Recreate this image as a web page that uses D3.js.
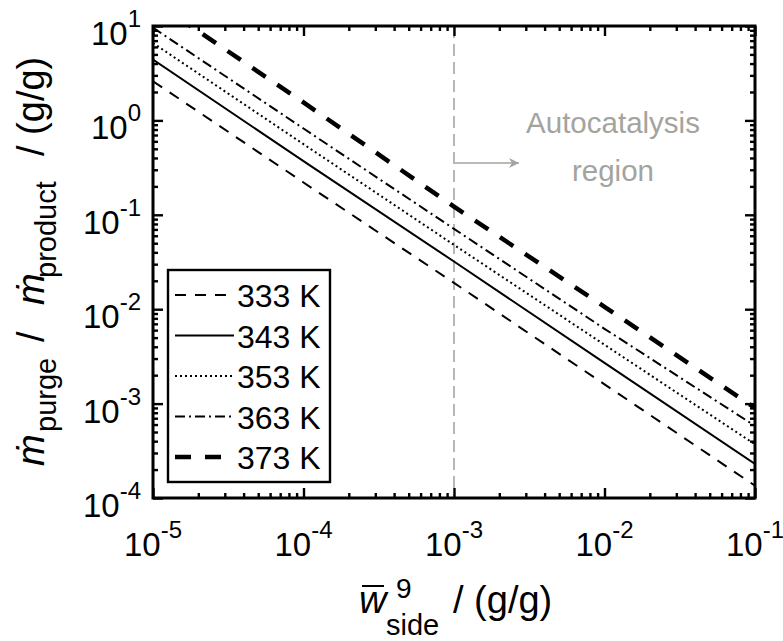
<!DOCTYPE html>
<html>
<head>
<meta charset="utf-8">
<script src="https://cdn.jsdelivr.net/npm/d3@7"></script>
<style>
  body { margin: 0; background: #fff; }
  text { font-family: "Liberation Sans", Arial, Helvetica, sans-serif; }
</style>
</head>
<body>
<div id="chart"></div>
<script>
// chart size and plot box
const width = 783;
const height = 641;
const margin = { top: 26, right: 28, bottom: 143, left: 153 };
const plotW = width - margin.left - margin.right;
const plotH = height - margin.top - margin.bottom;

// data (values at each decade of w_side)
const wSide = [1e-5, 1e-4, 1e-3, 1e-2, 1e-1];
const temps = ["333 K", "343 K", "353 K", "363 K", "373 K"];
const ratio333 = [2.6, 0.22, 0.019, 0.0016, 1.35e-4];
const ratio343 = [4.4, 0.37, 0.032, 0.0027, 2.3e-4];
const ratio353 = [6.6, 0.56, 0.048, 0.0042, 3.7e-4];
const ratio363 = [9.6, 0.82, 0.071, 0.0062, 5.8e-4];
const ratio373 = [18.6, 1.55, 0.122, 0.0106, 9.0e-4];
const xTicks = [1e-5, 1e-4, 1e-3, 1e-2, 1e-1];
const yTicks = [1e-4, 1e-3, 1e-2, 1e-1, 1e0, 1e1];
const autocatStart = 1e-3;

const seriesList = [ratio333, ratio343, ratio353, ratio363, ratio373];

// line styles per temperature
const styles = [
    { dash: "11,9", w: 2 },
    { dash: null, w: 2 },
    { dash: "2,3", w: 2 },
    { dash: "10,4,2,4", w: 2 },
    { dash: "16,14", w: 4.5 }
];

const svg = d3.select("#chart")
    .append("svg")
    .attr("width", width)
    .attr("height", height);

const g = svg.append("g")
    .attr("transform", `translate(${margin.left},${margin.top})`);

const x = d3.scaleLog().domain([1e-5, 1e-1]).range([0, plotW]);
const y = d3.scaleLog().domain([1e-4, 1e1]).range([plotH, 0]);

// minor ticks 2..9 of every decade
function minorTicks(lo, hi) {
    const out = [];
    for (let e = lo; e < hi; e++) {
        for (let k = 2; k <= 9; k++) out.push(k * Math.pow(10, e));
    }
    return out;
}
const xMinor = minorTicks(-5, -1);
const yMinor = minorTicks(-4, 1);

g.append("clipPath").attr("id", "clip")
    .append("rect").attr("width", plotW).attr("height", plotH);

// vertical marker for autocatalysis start
const grey = "#a3a49d";
g.append("line")
    .attr("x1", x(autocatStart)).attr("x2", x(autocatStart))
    .attr("y1", 0).attr("y2", plotH)
    .attr("stroke", "#b0b0ab")
    .attr("stroke-width", 1.8)
    .attr("stroke-dasharray", "12,6");

// arrow
svg.append("defs").append("marker")
    .attr("id", "arrow")
    .attr("viewBox", "0 0 10 10")
    .attr("refX", 10).attr("refY", 5)
    .attr("markerWidth", 10).attr("markerHeight", 10)
    .attr("markerUnits", "userSpaceOnUse")
    .attr("orient", "auto")
    .append("path")
    .attr("d", "M0,0 L10,5 L0,10 L3,5 Z")
    .attr("fill", grey);

const arrowY = 137;
g.append("line")
    .attr("x1", x(autocatStart) + 1).attr("x2", x(autocatStart) + 65)
    .attr("y1", arrowY).attr("y2", arrowY)
    .attr("stroke", grey)
    .attr("stroke-width", 1.3)
    .attr("marker-end", "url(#arrow)");

g.append("text")
    .attr("x", 460).attr("y", 107)
    .attr("text-anchor", "middle")
    .attr("font-size", 29.5)
    .attr("fill", grey)
    .text("Autocatalysis");
g.append("text")
    .attr("x", 460).attr("y", 155)
    .attr("text-anchor", "middle")
    .attr("font-size", 29.5)
    .attr("fill", grey)
    .text("region");

// series lines
const line = d3.line()
    .x((d, i) => x(wSide[i]))
    .y(d => y(d));

g.append("g")
    .attr("clip-path", "url(#clip)")
    .selectAll("path")
    .data(seriesList)
    .enter().append("path")
    .attr("d", line)
    .attr("fill", "none")
    .attr("stroke", "#000")
    .attr("stroke-width", (d, i) => styles[i].w)
    .attr("stroke-dasharray", (d, i) => styles[i].dash);

// ticks, inward on all four sides
const tickW = 2.4;
function styleTicks(sel) {
    sel.select(".domain").remove();
    sel.selectAll("line").attr("stroke", "#000").attr("stroke-width", tickW);
}
g.append("g").attr("transform", `translate(0,${plotH})`)
    .call(d3.axisBottom(x).tickValues(xTicks).tickFormat("").tickSize(-10)).call(styleTicks);
g.append("g").attr("transform", `translate(0,${plotH})`)
    .call(d3.axisBottom(x).tickValues(xMinor).tickFormat("").tickSize(-5)).call(styleTicks);
g.append("g")
    .call(d3.axisTop(x).tickValues(xTicks).tickFormat("").tickSize(-10)).call(styleTicks);
g.append("g")
    .call(d3.axisTop(x).tickValues(xMinor).tickFormat("").tickSize(-5)).call(styleTicks);
g.append("g")
    .call(d3.axisLeft(y).tickValues(yTicks).tickFormat("").tickSize(-10)).call(styleTicks);
g.append("g")
    .call(d3.axisLeft(y).tickValues(yMinor).tickFormat("").tickSize(-5)).call(styleTicks);
g.append("g").attr("transform", `translate(${plotW},0)`)
    .call(d3.axisRight(y).tickValues(yTicks).tickFormat("").tickSize(-10)).call(styleTicks);
g.append("g").attr("transform", `translate(${plotW},0)`)
    .call(d3.axisRight(y).tickValues(yMinor).tickFormat("").tickSize(-5)).call(styleTicks);

// frame
g.append("rect")
    .attr("width", plotW).attr("height", plotH)
    .attr("fill", "none")
    .attr("stroke", "#000")
    .attr("stroke-width", 3);

// tick labels as 10^n
const expOf = v => Math.round(Math.log10(v));
const xLab = g.append("g").selectAll("text")
    .data(xTicks)
    .enter().append("text")
    .attr("x", d => x(d))
    .attr("y", plotH + 58)
    .attr("text-anchor", "middle")
    .attr("font-size", 33);
xLab.append("tspan").text("10");
xLab.append("tspan").attr("dy", -18).attr("font-size", 24).text(d => expOf(d));

const yLab = g.append("g").selectAll("text")
    .data(yTicks)
    .enter().append("text")
    .attr("x", -12)
    .attr("y", d => y(d) + 19)
    .attr("text-anchor", "end")
    .attr("font-size", 33);
yLab.append("tspan").text("10");
yLab.append("tspan").attr("dy", -18).attr("font-size", 24).text(d => expOf(d));

// legend
const legend = g.append("g").attr("transform", "translate(15,244)");
legend.append("rect")
    .attr("width", 162).attr("height", 212)
    .attr("fill", "#fff")
    .attr("stroke", "#000")
    .attr("stroke-width", 2.4);
const row = legend.selectAll(".row")
    .data(temps)
    .enter().append("g")
    .attr("class", "row")
    .attr("transform", (d, i) => `translate(0,${25 + i * 40.5})`);
row.append("line")
    .attr("x1", 7).attr("x2", 66)
    .attr("stroke", "#000")
    .attr("stroke-width", (d, i) => styles[i].w)
    .attr("stroke-dasharray", (d, i) => styles[i].dash);
row.append("text")
    .attr("x", 69).attr("y", 12)
    .attr("font-size", 32)
    .text(d => d);

// x axis title: w-bar ^9 _side / (g/g)
const xt = svg.append("g").attr("transform", "translate(359,613)");
xt.append("text").attr("font-size", 38).attr("font-style", "italic").text("w");
xt.append("line").attr("x1", 3).attr("x2", 25).attr("y1", -27).attr("y2", -27)
    .attr("stroke", "#000").attr("stroke-width", 2);
xt.append("text").attr("x", 37).attr("y", -15).attr("font-size", 28).text("9");
xt.append("text").attr("x", 27).attr("y", 22).attr("font-size", 29).text("side");
xt.append("text").attr("x", 94).attr("font-size", 38).text("/ (g/g)");

// y axis title: m_purge / m_product / (g/g), pieces placed along the rotated axis
const yt = svg.append("g").attr("transform", "translate(44,0) rotate(-90)");
const yParts = [
    { s: "ṁ", at: 466, size: 38, dy: 0, it: true },
    { s: "purge", at: 432, size: 29, dy: 12, it: false },
    { s: "/", at: 342, size: 38, dy: 0, it: false },
    { s: "ṁ", at: 305, size: 38, dy: 0, it: true },
    { s: "product", at: 278, size: 29, dy: 12, it: false },
    { s: "/ (g/g)", at: 156, size: 38, dy: 0, it: false }
];
yt.selectAll("text")
    .data(yParts)
    .enter().append("text")
    .attr("x", d => -d.at)
    .attr("y", d => d.dy)
    .attr("font-size", d => d.size)
    .attr("font-style", d => d.it ? "italic" : null)
    .text(d => d.s);
</script>
</body>
</html>
